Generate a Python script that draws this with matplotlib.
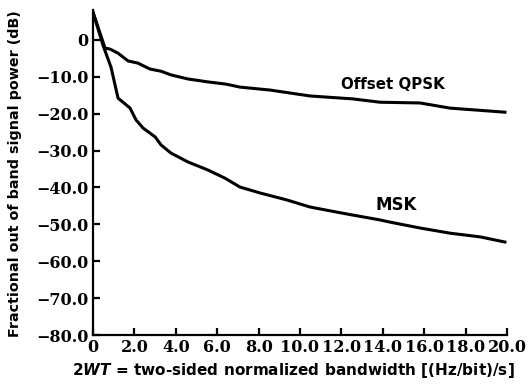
import matplotlib
matplotlib.use("Agg")
import matplotlib.pyplot as plt

# Data
oqpsk_x = [0.0, 0.58, 0.82, 1.21, 1.69, 2.17, 2.75, 3.29, 3.77, 4.59, 5.56, 6.43,
           7.10, 8.55, 10.48, 12.56, 13.86, 15.80, 17.25, 19.9]
oqpsk_y = [7.5, -2.2, -2.5, -3.6, -5.7, -6.3, -7.9, -8.5, -9.5, -10.6, -11.4, -12.0,
           -12.8, -13.6, -15.2, -16.0, -16.9, -17.1, -18.5, -19.6]

msk_x = [0.0, 0.48, 0.87, 1.21, 1.45, 1.79, 2.08, 2.42, 3.0, 3.29, 3.77, 4.59, 5.56,
         6.38, 7.10, 8.07, 9.37, 10.48, 11.79, 12.56, 13.86, 14.35, 15.80, 17.25,
         18.70, 19.9]
msk_y = [7.5, -1.4, -7.4, -15.8, -16.9, -18.5, -21.7, -23.9, -26.3, -28.5, -30.7,
         -33.1, -35.3, -37.5, -39.9, -41.5, -43.4, -45.3, -46.7, -47.5, -48.8, -49.4,
         -51.0, -52.4, -53.4, -54.8]

x_ticks = [0, 2, 4, 6, 8, 10, 12, 14, 16, 18, 20]
x_tick_labels = ["0", "2.0", "4.0", "6.0", "8.0", "10.0", "12.0", "14.0", "16.0", "18.0", "20.0"]
y_ticks = [0, -10, -20, -30, -40, -50, -60, -70, -80]
y_tick_labels = ["0", "\u221210.0", "\u221220.0", "\u221230.0", "\u221240.0", "\u221250.0",
                 "\u221260.0", "\u221270.0", "\u221280.0"]

plt.rcParams['mathtext.fontset'] = 'custom'
plt.rcParams['mathtext.it'] = 'DejaVu Sans:italic:bold'
plt.rcParams['mathtext.rm'] = 'DejaVu Sans:bold'

fig = plt.figure(figsize=(5.32, 3.88), dpi=100)
ax = fig.add_axes([93/532, 1 - 335/388, (507 - 93)/532, (335 - 10)/388])

ax.plot(oqpsk_x, oqpsk_y, color='black', lw=2.2, solid_joinstyle='round')
ax.plot(msk_x, msk_y, color='black', lw=2.2, solid_joinstyle='round')

ax.set_xlim(0, 20)
ax.set_ylim(-80, 8.1)

for s in ['top', 'right']:
    ax.spines[s].set_visible(False)
for s in ['left', 'bottom']:
    ax.spines[s].set_linewidth(1.6)

ax.set_xticks(x_ticks)
ax.set_xticklabels(x_tick_labels)
ax.set_yticks(y_ticks)
ax.set_yticklabels(y_tick_labels)
ax.tick_params(direction='in', length=5, width=1.6, pad=3)
for lab in ax.get_xticklabels() + ax.get_yticklabels():
    lab.set_fontfamily('DejaVu Serif')
    lab.set_fontweight('bold')
    lab.set_fontsize(11.5)

ax.text(14.5, -12.0, "Offset QPSK", fontfamily='DejaVu Sans', fontweight='bold',
        fontsize=10.8, ha='center', va='center')
ax.text(14.64, -44.8, "MSK", fontfamily='DejaVu Sans', fontweight='bold',
        fontsize=12, ha='center', va='center')

fig.text(293/532, 1 - 370/388, r"2$\mathit{WT}$ = two-sided normalized bandwidth [(Hz/bit)/s]",
         fontfamily='DejaVu Sans', fontweight='bold', fontsize=11, ha='center', va='center')
fig.text(15/532, 1 - 174/388, "Fractional out of band signal power (dB)",
         fontfamily='DejaVu Sans', fontweight='bold', fontsize=10.3, rotation=90,
         ha='center', va='center')

fig.savefig("out.png", dpi=100)
